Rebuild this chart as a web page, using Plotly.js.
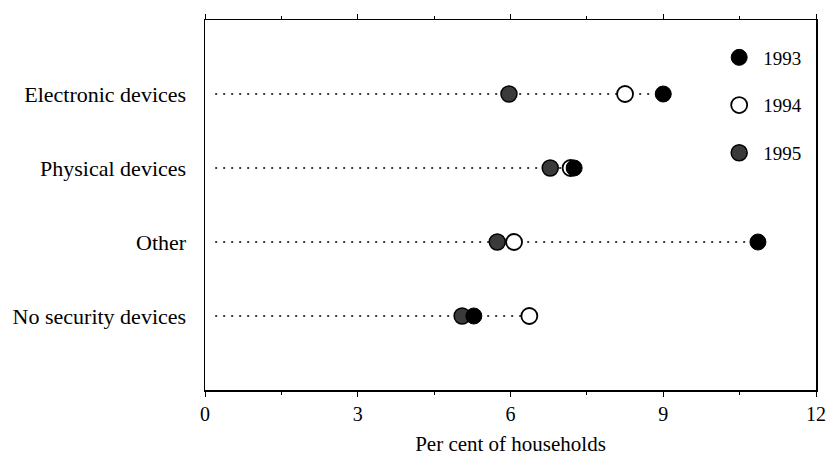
<!DOCTYPE html>
<html><head><meta charset="utf-8">
<script src="https://cdn.plot.ly/plotly-3.0.1.min.js"></script>
<style>body{margin:0;background:#fff}#c{width:826px;height:459px}</style>
</head><body><div id="c"></div>
<script>
const categories = ["Electronic devices", "Physical devices", "Other", "No security devices"];
const catPos = [4, 3, 2, 1];
const v1993 = [9.0, 7.25, 10.86, 5.28];
const v1994 = [8.25, 7.18, 6.07, 6.37];
const v1995 = [5.97, 6.78, 5.74, 5.05];
const years = ["1993", "1994", "1995"];
const xTicks = [0, 3, 6, 9, 12];
const lineStart = 0.2;

const traces = [];
categories.forEach((c, i) => {
  const mx = Math.max(v1993[i], v1994[i], v1995[i]);
  traces.push({x: [lineStart, mx], y: [catPos[i], catPos[i]], mode: 'lines',
    line: {color: '#000', width: 1.5, dash: '2px,6px'}, showlegend: false, hoverinfo: 'skip'});
});
const styles = [
  {color: '#000', line: {color: '#000', width: 1}},
  {color: '#fff', line: {color: '#000', width: 1.8}},
  {color: '#3a3a3a', line: {color: '#000', width: 1.5}}
];
[v1995, v1994, v1993].forEach((vals, k) => {
  const yi = 2 - k;
  traces.push({x: vals, y: catPos, mode: 'markers', name: years[yi],
    legendgroup: years[yi], legendrank: yi + 1,
    marker: Object.assign({size: 16, symbol: 'circle'}, styles[yi])});
});

const layout = {
  width: 826, height: 459,
  margin: {l: 205, r: 10, t: 20, b: 69},
  paper_bgcolor: '#fff', plot_bgcolor: '#fff',
  font: {family: 'Liberation Serif, Times New Roman, serif', size: 22, color: '#000'},
  showlegend: true,
  legend: {x: 0.835, y: 0.95, xanchor: 'left', yanchor: 'top', bgcolor: 'rgba(0,0,0,0)',
    font: {size: 19}, tracegroupgap: 20, itemwidth: 38, traceorder: 'grouped'},
  xaxis: {range: [0, 12], tickvals: xTicks, ticktext: xTicks.map(String),
    ticks: 'outside', ticklen: 5, tickcolor: '#000', showline: true, linecolor: '#000', linewidth: 1.5,
    mirror: 'allticks', showgrid: false, zeroline: false,
    minor: {dtick: 1.5, ticks: 'outside', ticklen: 3, tickcolor: '#000'},
    tickfont: {size: 20},
    title: {text: 'Per cent of households', font: {size: 21}, standoff: 13}},
  yaxis: {range: [0, 5], tickvals: catPos, ticktext: categories, ticks: '',
    showline: true, linecolor: '#000', linewidth: 1.5, mirror: true,
    showgrid: false, zeroline: false, tickfont: {size: 22}, ticklabelstandoff: 13}
};
Plotly.newPlot('c', traces, layout, {displayModeBar: false, staticPlot: true});
</script></body></html>
